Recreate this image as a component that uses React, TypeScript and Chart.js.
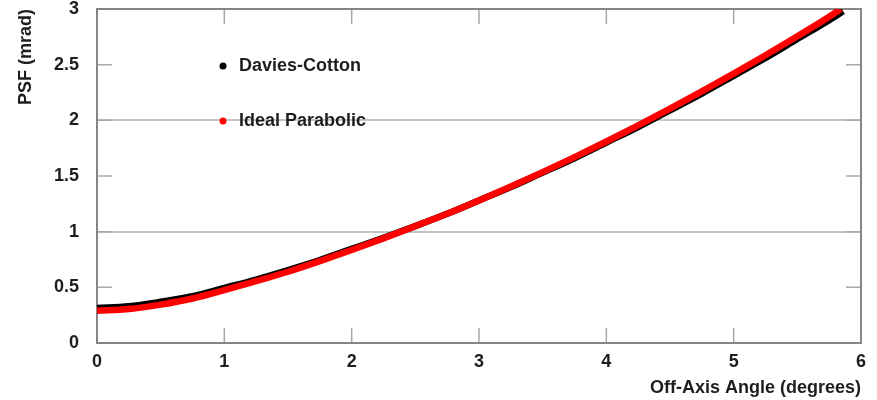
import { useEffect, useRef } from "react";
import { Chart, registerables } from "chart.js";

Chart.register(...registerables);

// Data
const daviesAngles = [0, 0.25, 0.5, 0.75, 1, 1.25, 1.5, 1.75, 2, 2.25, 2.5, 2.75, 3, 3.25, 3.5, 3.75, 4, 4.25, 4.5, 4.75, 5, 5.25, 5.5, 5.75, 5.86];
const daviesPsf = [0.315, 0.33, 0.37, 0.42, 0.495, 0.57, 0.655, 0.745, 0.845, 0.945, 1.05, 1.16, 1.28, 1.4, 1.53, 1.66, 1.8, 1.94, 2.09, 2.24, 2.4, 2.56, 2.73, 2.9, 2.98];
const parabolicAngles = [0, 0.25, 0.5, 0.75, 1, 1.25, 1.5, 1.75, 2, 2.25, 2.5, 2.75, 3, 3.25, 3.5, 3.75, 4, 4.25, 4.5, 4.75, 5, 5.25, 5.5, 5.75, 5.84];
const parabolicPsf = [0.29, 0.305, 0.345, 0.4, 0.475, 0.555, 0.64, 0.735, 0.835, 0.94, 1.05, 1.16, 1.28, 1.405, 1.535, 1.67, 1.81, 1.955, 2.105, 2.26, 2.42, 2.585, 2.755, 2.93, 3.0];

const xTickValues = [0, 1, 2, 3, 4, 5, 6];
const yTickValues = [0, 0.5, 1, 1.5, 2, 2.5, 3];
const gridValues = [1, 2];
const seriesNames = ["Davies-Cotton", "Ideal Parabolic"];
const seriesColors = ["#000000", "#ff0000"];
const xTitle = "Off-Axis Angle (degrees)";
const yTitle = "PSF (mrad)";

const FONT = "'Liberation Sans', Arial, Helvetica, sans-serif";
const TEXT = "#1e1e1e";

const framePlugin = {
  id: "frameTicks",
  beforeDatasetsDraw(chart: any) {
    const { ctx, chartArea, scales } = chart;
    const { left, right, top, bottom } = chartArea;
    ctx.save();
    // inner ticks
    ctx.strokeStyle = "#aaaaaa";
    ctx.lineWidth = 1.5;
    const len = 15;
    ctx.beginPath();
    for (const v of xTickValues) {
      const px = scales.x.getPixelForValue(v);
      ctx.moveTo(px, bottom);
      ctx.lineTo(px, bottom - len);
      ctx.moveTo(px, top);
      ctx.lineTo(px, top + len);
    }
    for (const v of yTickValues) {
      const py = scales.y.getPixelForValue(v);
      ctx.moveTo(left, py);
      ctx.lineTo(left + len, py);
      ctx.moveTo(right, py);
      ctx.lineTo(right - len, py);
    }
    ctx.stroke();
    // frame
    ctx.strokeStyle = "#858585";
    ctx.lineWidth = 2;
    ctx.strokeRect(left, top, right - left, bottom - top);
    ctx.restore();
  },
  afterDraw(chart: any) {
    const { ctx, chartArea } = chart;
    ctx.save();
    const dotX = chartArea.left + 126;
    const textX = chartArea.left + 142;
    const rows = [chartArea.top + 57, chartArea.top + 112];
    ctx.font = `bold 18px ${FONT}`;
    ctx.textBaseline = "middle";
    ctx.textAlign = "left";
    seriesNames.forEach((name, i) => {
      ctx.fillStyle = seriesColors[i];
      ctx.beginPath();
      ctx.arc(dotX, rows[i], 3.5, 0, Math.PI * 2);
      ctx.fill();
      ctx.fillStyle = TEXT;
      ctx.fillText(name, textX, rows[i]);
    });
    ctx.restore();
  },
};

export default function App() {
  const ref = useRef<HTMLCanvasElement | null>(null);

  useEffect(() => {
    if (!ref.current) return;
    const chart = new Chart(ref.current, {
      type: "scatter",
      data: {
        datasets: [
          {
            label: seriesNames[0],
            data: daviesAngles.map((x, i) => ({ x, y: daviesPsf[i] })),
            showLine: true,
            borderColor: seriesColors[0],
            backgroundColor: seriesColors[0],
            borderWidth: 6.5,
            pointRadius: 0,
            cubicInterpolationMode: "monotone",
            order: 2,
          },
          {
            label: seriesNames[1],
            data: parabolicAngles.map((x, i) => ({ x, y: parabolicPsf[i] })),
            showLine: true,
            borderColor: seriesColors[1],
            backgroundColor: seriesColors[1],
            borderWidth: 6.5,
            pointRadius: 0,
            cubicInterpolationMode: "monotone",
            order: 1,
          },
        ],
      },
      options: {
        animation: false,
        responsive: false,
        maintainAspectRatio: false,
        layout: { padding: { top: 9, right: 16, left: 0, bottom: 0 } },
        plugins: {
          legend: { display: false },
          tooltip: { enabled: false },
        },
        scales: {
          x: {
            type: "linear",
            min: 0,
            max: 6,
            afterBuildTicks: (s: any) => {
              s.ticks = xTickValues.map((v) => ({ value: v }));
            },
            afterFit: (s: any) => {
              s.height = 57;
              s.paddingLeft = 0;
              s.paddingRight = 0;
            },
            grid: { display: false, drawTicks: false },
            border: { display: false },
            ticks: {
              padding: 8,
              color: TEXT,
              font: { family: FONT, size: 18, weight: "bold" },
              callback: (v: any) => String(v),
            },
            title: {
              display: true,
              text: xTitle,
              align: "end",
              color: TEXT,
              font: { family: FONT, size: 18, weight: "bold" },
              padding: { top: 0, bottom: 1 },
            },
          },
          y: {
            type: "linear",
            min: 0,
            max: 3,
            afterBuildTicks: (s: any) => {
              s.ticks = yTickValues.map((v) => ({ value: v }));
            },
            afterFit: (s: any) => {
              s.width = 97;
              s.paddingTop = 0;
              s.paddingBottom = 0;
            },
            grid: {
              drawTicks: false,
              lineWidth: 2,
              color: (c: any) => (gridValues.includes(c.tick?.value) ? "#c4c4c4" : "rgba(0,0,0,0)"),
            },
            border: { display: false },
            ticks: {
              padding: 18,
              color: TEXT,
              font: { family: FONT, size: 18, weight: "bold" },
              callback: (v: any) => String(v),
            },
            title: {
              display: true,
              text: yTitle,
              align: "end",
              color: TEXT,
              font: { family: FONT, size: 18, weight: "bold" },
              padding: { top: 15, bottom: 0 },
            },
          },
        },
      },
      plugins: [framePlugin],
    } as any);
    return () => chart.destroy();
  }, []);

  return (
    <div style={{ position: "absolute", left: 0, top: 0, width: 877, height: 400, background: "#fff" }}>
      <canvas ref={ref} width={877} height={400} style={{ width: 877, height: 400, display: "block" }} />
    </div>
  );
}
